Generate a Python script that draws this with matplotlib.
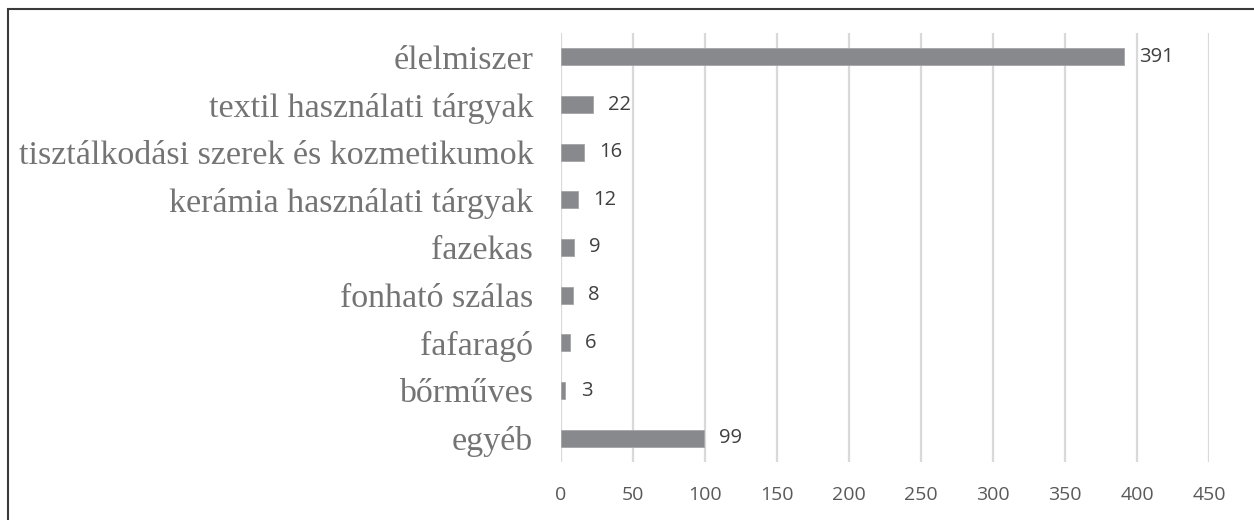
import matplotlib
matplotlib.use("Agg")
import matplotlib.pyplot as plt
from matplotlib.patches import Rectangle

categories = ["élelmiszer", "textil használati tárgyak", "tisztálkodási szerek és kozmetikumok",
              "kerámia használati tárgyak", "fazekas", "fonható szálas", "fafaragó", "bőrműves", "egyéb"]
values = [391, 22, 16, 12, 9, 8, 6, 3, 99]
xticks = [0, 50, 100, 150, 200, 250, 300, 350, 400, 450]

W, H = 1254, 520
fig = plt.figure(figsize=(W / 100, H / 100), dpi=100)
ax = fig.add_axes([561 / W, 1 - 462 / H, (1209 - 561) / W, (462 - 33) / H])

ypos = list(range(len(categories)))
ax.barh(ypos, values, height=0.35, color="#88898c", edgecolor="#a5a5a8", linewidth=0.6, zorder=3)
ax.set_ylim(len(categories) - 0.5, -0.5)
ax.set_xlim(0, 450)
ax.set_xticks(xticks)
ax.set_xticklabels([str(t) for t in xticks], family="Open Sans", fontsize=14, color="#595959")
ax.set_yticks(ypos)
ax.set_yticklabels(categories, family="Liberation Serif", fontsize=24.5, color="#747474")
ax.tick_params(axis="both", length=0)
ax.tick_params(axis="y", pad=20)
ax.tick_params(axis="x", pad=17)
for s in ax.spines.values():
    s.set_visible(False)
ax.grid(axis="x", color="#d9d9d9", linewidth=1.6, zorder=0)

for y, v in zip(ypos, values):
    ax.annotate(str(v), (v, y), xytext=(11, 0), textcoords="offset points",
                va="center", ha="left", family="Open Sans", fontsize=14.5, color="#404040")

fig.patches.append(Rectangle((8 / W, -0.1), 1.2, 1 - 9 / H + 0.1, transform=fig.transFigure,
                             fill=False, edgecolor="#3a3a3a", linewidth=1.5))
fig.savefig("out.png", dpi=100)
